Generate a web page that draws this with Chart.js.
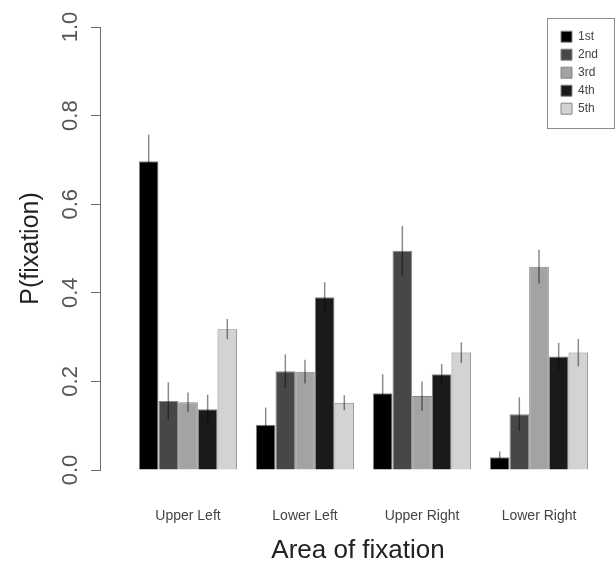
<!DOCTYPE html>
<html><head><meta charset="utf-8">
<script src="https://cdn.jsdelivr.net/npm/chart.js@4.4.0/dist/chart.umd.min.js"></script>
<style>html,body{margin:0;padding:0;background:#fff;}canvas{display:block;}</style>
</head><body>
<canvas id="c" width="616" height="564"></canvas>
<script>
// ---- data ----
const categories = ['Upper Left', 'Lower Left', 'Upper Right', 'Lower Right'];
const seriesNames = ['1st', '2nd', '3rd', '4th', '5th'];
const first  = [0.697, 0.102, 0.173, 0.029];
const second = [0.156, 0.223, 0.495, 0.126];
const third  = [0.153, 0.222, 0.167, 0.459];
const fourth = [0.137, 0.390, 0.216, 0.256];
const fifth  = [0.318, 0.152, 0.265, 0.265];
const firstErr  = [0.060, 0.039, 0.043, 0.013];
const secondErr = [0.042, 0.038, 0.056, 0.038];
const thirdErr  = [0.022, 0.027, 0.033, 0.038];
const fourthErr = [0.033, 0.034, 0.023, 0.031];
const fifthErr  = [0.023, 0.017, 0.023, 0.031];
const yTicks = [0, 0.2, 0.4, 0.6, 0.8, 1.0];

const seriesValues = [first, second, third, fourth, fifth];
const seriesErrors = [firstErr, secondErr, thirdErr, fourthErr, fifthErr];
const seriesColors = ['#000000', '#474747', '#a3a3a3', '#1a1a1a', '#d3d3d3'];

Chart.defaults.font.family = "'Liberation Sans', Arial, sans-serif";

const datasets = seriesNames.map((name, s) => ({
  label: name,
  data: seriesValues[s].map((v, i) => ({ x: i + 1, y: v })),
  backgroundColor: seriesColors[s],
  borderColor: '#858585',
  borderWidth: 1,
  categoryPercentage: 0.84,
  barPercentage: 1.0
}));

const errorBars = {
  id: 'errorBars',
  afterDatasetsDraw(chart) {
    const ctx = chart.ctx, ys = chart.scales.y;
    ctx.save();
    ctx.globalCompositeOperation = 'multiply';
    ctx.strokeStyle = '#8a8a8a';
    ctx.lineWidth = 1.5;
    chart.data.datasets.forEach((ds, s) => {
      const meta = chart.getDatasetMeta(s);
      meta.data.forEach((bar, j) => {
        const v = ds.data[j].y, e = seriesErrors[s][j];
        ctx.beginPath();
        ctx.moveTo(bar.x, ys.getPixelForValue(v + e));
        ctx.lineTo(bar.x, ys.getPixelForValue(Math.max(0, v - e)));
        ctx.stroke();
      });
    });
    ctx.restore();
  }
};

const legendPlace = {
  id: 'legendPlace',
  afterLayout(chart) {
    const lg = chart.legend;
    if (!lg) return;
    const w = lg.width;
    lg.left = 555; lg.top = 24.7;
    lg.right = lg.left + w; lg.bottom = lg.top + 200; lg.height = 200;
  },
  afterDraw(chart) {
    const ctx = chart.ctx;
    ctx.save();
    ctx.strokeStyle = '#8c8c8c';
    ctx.lineWidth = 1;
    ctx.strokeRect(547.5, 18.5, 67, 110);
    ctx.restore();
  }
};

new Chart(document.getElementById('c'), {
  type: 'bar',
  data: { datasets },
  plugins: [errorBars, legendPlace],
  options: {
    responsive: false,
    animation: false,
    devicePixelRatio: 1,
    layout: { padding: { left: 0, top: 27, right: 0, bottom: 0 } },
    plugins: {
      tooltip: { enabled: false },
      legend: {
        position: 'chartArea',
        align: 'start',
        labels: { boxWidth: 11, boxHeight: 11, padding: 6, font: { size: 12 }, color: '#444' }
      }
    },
    scales: {
      x: {
        type: 'linear',
        min: 0.248,
        max: 4.658,
        offset: false,
        afterBuildTicks(s) { s.ticks = categories.map((c, i) => ({ value: i + 1 })); },
        afterFit(s) { s.height = 94; },
        grid: { display: false, drawTicks: false },
        border: { display: false },
        ticks: {
          padding: 38, autoSkip: false, maxRotation: 0,
          font: { size: 14 }, color: '#444',
          callback: (v) => categories[v - 1] ?? ''
        },
        title: {
          display: true, text: 'Area of fixation', color: '#222',
          font: { size: 26, lineHeight: 1.0 }, padding: { top: 0, bottom: 0 }
        }
      },
      y: {
        min: 0, max: 1,
        afterBuildTicks(s) { s.ticks = yTicks.map(v => ({ value: v })); },
        afterFit(s) { s.width = 100; },
        border: { display: true, color: '#6b6b6b', width: 1 },
        grid: { display: true, drawOnChartArea: false, drawTicks: true, tickLength: 9, tickColor: '#6b6b6b', tickWidth: 1 },
        ticks: {
          minRotation: 90, maxRotation: 90, crossAlign: 'center', padding: 5,
          font: { size: 22 }, color: '#555',
          callback: (v) => Number(v).toFixed(1)
        },
        title: {
          display: true, text: 'P(fixation)', color: '#222',
          font: { size: 25 }, padding: { top: 16, bottom: 0 }
        }
      }
    }
  }
});
</script>
</body></html>
